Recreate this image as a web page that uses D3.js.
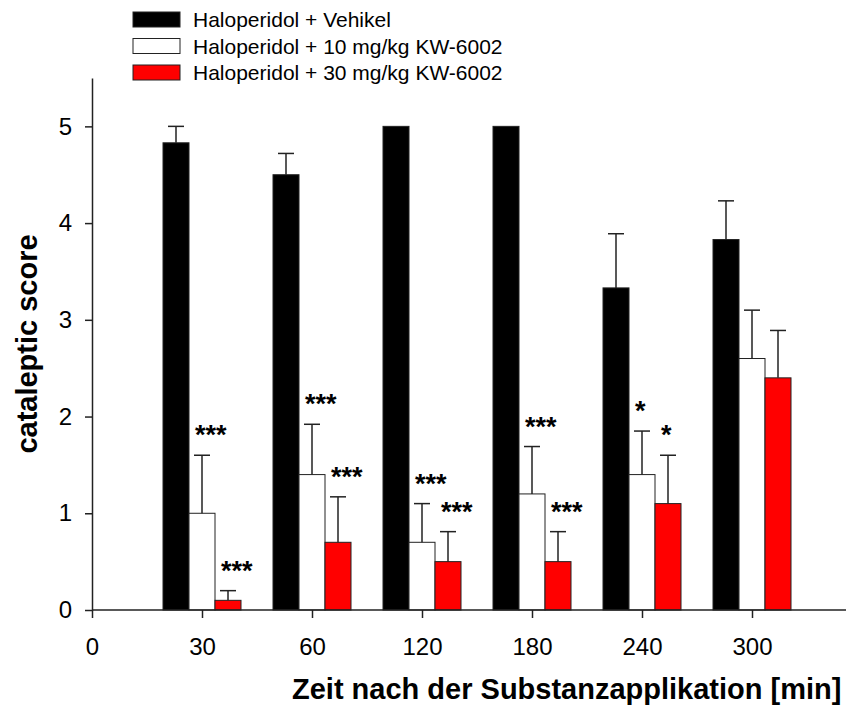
<!DOCTYPE html>
<html>
<head>
<meta charset="utf-8">
<script src="https://cdn.jsdelivr.net/npm/d3@7.9.0/dist/d3.min.js"></script>
<style>
  body { margin: 0; background: #fff; }
  svg { display: block; font-family: "Liberation Sans", Arial, sans-serif; }
</style>
</head>
<body>
<svg id="chart" width="846" height="707"></svg>
<script>
// time points (x tick labels) and the groups that carry bars
const tickLabels = ['0', '30', '60', '120', '180', '240', '300'];
const groups = ['30', '60', '120', '180', '240', '300'];

const seriesNames = [
  'Haloperidol + Vehikel',
  'Haloperidol + 10 mg/kg KW-6002',
  'Haloperidol + 30 mg/kg KW-6002'
];
const seriesColors = ['#000000', '#ffffff', '#ff0000'];

// means per group
const vehikel = [4.83, 4.5, 5.0, 5.0, 3.33, 3.83];
const kw10 = [1.0, 1.4, 0.7, 1.2, 1.4, 2.6];
const kw30 = [0.1, 0.7, 0.5, 0.5, 1.1, 2.4];

// upper error (SEM)
const vehikelErr = [0.17, 0.22, 0, 0, 0.56, 0.4];
const kw10Err = [0.6, 0.52, 0.4, 0.49, 0.45, 0.5];
const kw30Err = [0.1, 0.47, 0.31, 0.31, 0.5, 0.49];

// significance marks
const vehikelSig = ['', '', '', '', '', ''];
const kw10Sig = ['***', '***', '***', '***', '*', ''];
const kw30Sig = ['***', '***', '***', '***', '*', ''];

const yTicks = [0, 1, 2, 3, 4, 5];

const means = [vehikel, kw10, kw30];
const errs = [vehikelErr, kw10Err, kw30Err];
const sigs = [vehikelSig, kw10Sig, kw30Sig];

const svg = d3.select('#chart');
const width = 846;
const margin = { left: 92, top: 78, bottom: 97 };
const plotBottom = 707 - margin.bottom;

const x = d3.scalePoint().domain(tickLabels).range([92, 752]);
const y = d3.scaleLinear().domain([0, 5.5]).range([plotBottom, margin.top]);
const groupWidth = 78;
const xInner = d3.scaleBand().domain(d3.range(3)).range([0, groupWidth]);

const bars = [];
groups.forEach((g, gi) => {
  for (let s = 0; s < 3; s++) {
    bars.push({ g, s, value: means[s][gi], err: errs[s][gi], sig: sigs[s][gi] });
  }
});

const barX = d => x(d.g) - groupWidth / 2 + xInner(d.s);

// bars
svg.append('g').selectAll('rect')
  .data(bars)
  .join('rect')
  .attr('x', barX)
  .attr('y', d => y(d.value))
  .attr('width', xInner.bandwidth())
  .attr('height', d => y(0) - y(d.value))
  .attr('fill', d => seriesColors[d.s])
  .attr('stroke', '#222')
  .attr('stroke-width', 1);

// error bars (upper only)
const eb = svg.append('g').attr('stroke', '#222').attr('stroke-width', 1.5);
bars.filter(d => d.err > 0).forEach(d => {
  const cx = barX(d) + xInner.bandwidth() / 2;
  eb.append('line')
    .attr('x1', cx).attr('x2', cx)
    .attr('y1', y(d.value)).attr('y2', y(d.value + d.err));
  eb.append('line')
    .attr('x1', cx - 8).attr('x2', cx + 8)
    .attr('y1', y(d.value + d.err)).attr('y2', y(d.value + d.err));
});

// significance asterisks
svg.append('g').selectAll('text')
  .data(bars.filter(d => d.sig))
  .join('text')
  .attr('x', d => barX(d) + xInner.bandwidth() / 2 - 7)
  .attr('y', d => y(d.value + d.err) - 11)
  .attr('font-size', 27)
  .attr('font-weight', 'bold')
  .text(d => d.sig);

// y axis
const yAxis = svg.append('g')
  .attr('transform', `translate(${margin.left},0)`)
  .call(d3.axisLeft(y).tickValues(yTicks).tickFormat(d3.format('d'))
    .tickSize(7).tickSizeOuter(0).tickPadding(13));
yAxis.selectAll('text').attr('font-size', 24).attr('fill', '#000');
yAxis.selectAll('line, path').attr('stroke', '#222').attr('stroke-width', 1.5);
yAxis.attr('font-family', null);

// x axis
const xAxis = svg.append('g')
  .attr('transform', `translate(0,${plotBottom})`)
  .call(d3.axisBottom(x).tickSize(8).tickSizeOuter(0).tickPadding(20));
xAxis.select('.domain').remove();
xAxis.append('line')
  .attr('x1', margin.left).attr('x2', width)
  .attr('stroke', '#222').attr('stroke-width', 1.5);
xAxis.selectAll('text').attr('font-size', 24).attr('fill', '#000');
xAxis.selectAll('.tick line').attr('stroke', '#222').attr('stroke-width', 1.5);
xAxis.attr('font-family', null);

// axis titles
svg.append('text')
  .attr('x', 292)
  .attr('y', 699)
  .attr('font-size', 29)
  .attr('font-weight', 'bold')
  .text('Zeit nach der Substanzapplikation [min]');

svg.append('text')
  .attr('transform', `translate(37,${(margin.top + plotBottom) / 2}) rotate(-90)`)
  .attr('text-anchor', 'middle')
  .attr('font-size', 29)
  .attr('font-weight', 'bold')
  .text('cataleptic score');

// legend
const legend = svg.append('g').attr('transform', 'translate(133,12)');
seriesNames.forEach((name, i) => {
  const row = legend.append('g').attr('transform', `translate(0,${i * 26.5})`);
  row.append('rect')
    .attr('width', 47).attr('height', 15)
    .attr('fill', seriesColors[i])
    .attr('stroke', '#222').attr('stroke-width', 1);
  row.append('text')
    .attr('x', 60).attr('y', 15)
    .attr('font-size', 21)
    .text(name);
});
</script>
</body>
</html>
